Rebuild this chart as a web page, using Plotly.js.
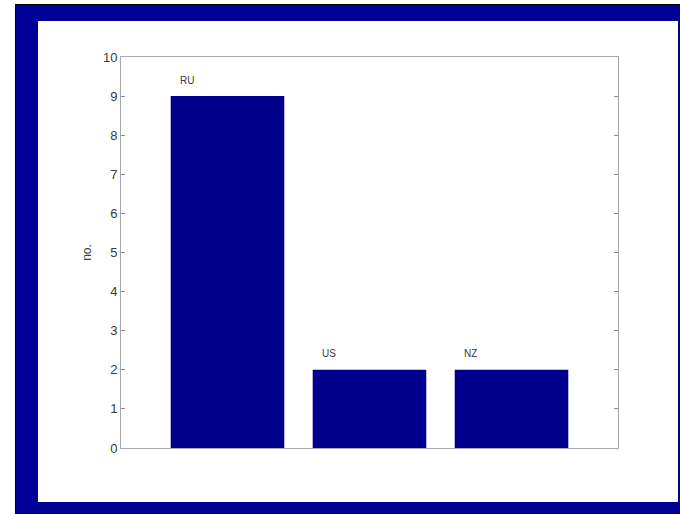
<!DOCTYPE html>
<html>
<head>
<meta charset="utf-8">
<script src="https://cdn.plot.ly/plotly-3.0.1.min.js"></script>
<style>
  html, body { margin: 0; padding: 0; background: #ffffff; }
  #frame {
    position: absolute; left: 15px; top: 4px; width: 665px; height: 510px;
    background: #000000; box-sizing: border-box;
  }
  #band {
    position: absolute; left: 16px; top: 5px; width: 664px; height: 508px;
    background: #000096;
  }
  #inner {
    position: absolute; left: 38px; top: 21px; width: 640px; height: 481px;
    background: #ffffff;
  }
  #chart { position: absolute; left: 0; top: 0; width: 680px; height: 514px; }
</style>
</head>
<body>
<div id="frame"></div>
<div id="band"></div>
<div id="inner"></div>
<div id="chart"></div>
<script>
// Counts per country
const countries = ['RU', 'US', 'NZ'];
const counts = [9, 2, 2];
const positions = [1, 2, 3];
const yTicks = [0, 1, 2, 3, 4, 5, 6, 7, 8, 9, 10];

const barColor = '#00008c';
const axisColor = '#a8a8a8';
const textColor = '#3a3a3a';

const trace = {
  type: 'bar',
  x: positions,
  y: counts,
  width: 0.8,
  marker: { color: barColor, line: { width: 0 } },
  hoverinfo: 'skip'
};

// Country names written just above the top-left corner of each bar
const annotations = countries.map((c, i) => ({
  x: positions[i] - 0.35,
  y: counts[i],
  xref: 'x', yref: 'y',
  text: c,
  showarrow: false,
  xanchor: 'left',
  yanchor: 'middle',
  yshift: 16,
  font: { family: 'Liberation Sans, Arial, sans-serif', size: 10, color: textColor }
}));

const layout = {
  width: 680, height: 514,
  margin: { l: 121, r: 62, t: 57, b: 66 },
  paper_bgcolor: 'rgba(0,0,0,0)',
  plot_bgcolor: '#ffffff',
  showlegend: false,
  xaxis: {
    range: [0.25, 3.75],
    showticklabels: false,
    ticks: '',
    showgrid: false,
    zeroline: false,
    showline: true,
    linecolor: axisColor,
    linewidth: 1,
    mirror: true,
    fixedrange: true
  },
  yaxis: {
    range: [0, 10],
    tickvals: yTicks,
    ticktext: yTicks.map(String),
    ticks: 'inside',
    ticklen: 4,
    tickcolor: '#8a8a8a',
    tickfont: { family: 'Liberation Sans, Arial, sans-serif', size: 13, color: textColor },
    showgrid: false,
    zeroline: false,
    showline: true,
    linecolor: axisColor,
    linewidth: 1,
    mirror: 'ticks',
    title: {
      text: 'no.',
      standoff: 8,
      font: { family: 'Liberation Sans, Arial, sans-serif', size: 12, color: textColor }
    },
    automargin: false,
    fixedrange: true
  },
  annotations: annotations
};

Plotly.newPlot('chart', [trace], layout, { displayModeBar: false, staticPlot: true });
</script>
</body>
</html>
